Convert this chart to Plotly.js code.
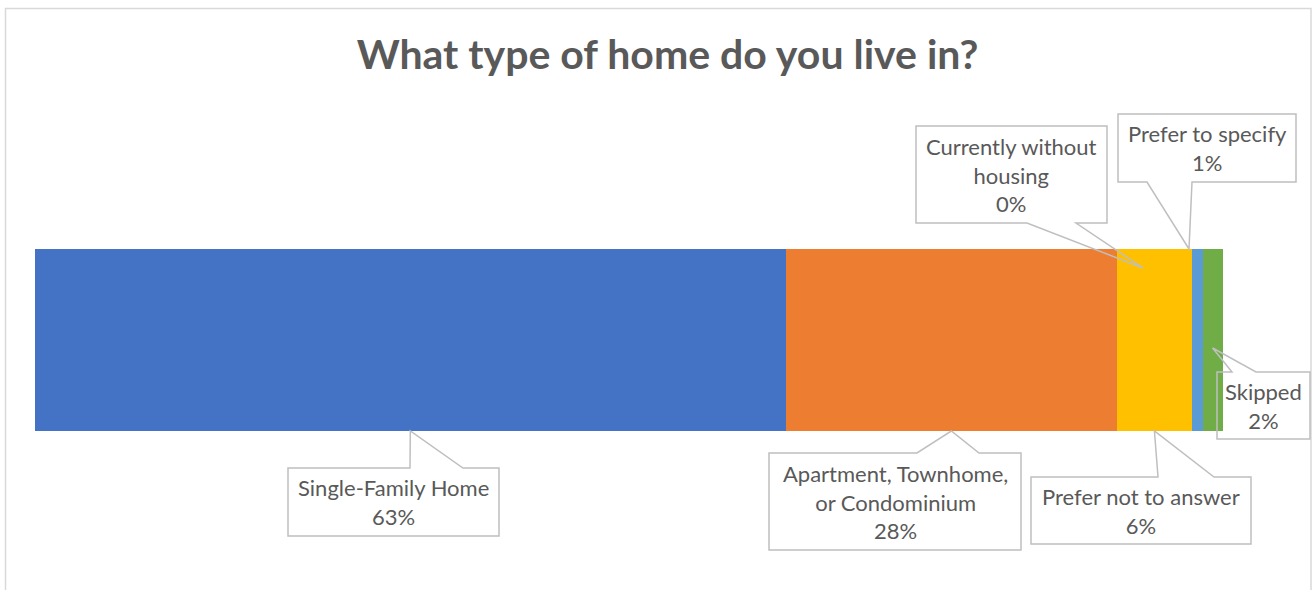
<!DOCTYPE html>
<html>
<head>
<meta charset="utf-8">
<script src="https://cdn.plot.ly/plotly-3.0.1.min.js"></script>
<style>html,body{margin:0;padding:0;background:#fff;}#chart{width:1313px;height:590px;}</style>
</head>
<body>
<div id="chart"></div>
<script>
// ---- data ----
const categories = ['Single-Family Home', 'Apartment, Townhome, or Condominium', 'Currently without housing', 'Prefer not to answer', 'Prefer to specify', 'Skipped'];
const labelLines = ['Single-Family Home', 'Apartment, Townhome,<br>or Condominium', 'Currently without<br>housing', 'Prefer not to answer', 'Prefer to specify', 'Skipped'];
const values = [0.632, 0.279, 0.0, 0.063, 0.009, 0.017];
const colors = ['#4472C4', '#ED7D31', '#A5A5A5', '#FFC000', '#5B9BD5', '#70AD47'];

// ---- geometry helpers (plot area in pixels) ----
const W = 1313, H = 590;
const mL = 35, mR = 13, mT = 249, mB = 159;
const plotW = W - mL - mR, plotH = H - mT - mB;
const XMAX = plotW / 1187.7;
const px2p = px => (px - mL) / plotW;
const py2p = py => (H - mB - py) / plotH;
const d2px = d => mL + d / XMAX * plotW;

const starts = [];
let acc = 0;
values.forEach(v => { starts.push(acc); acc += v; });
const centerPx = i => d2px(starts[i] + values[i] / 2);

// callout boxes (pixels): box, wedge edge, wedge base, tip
const callouts = [
  {box: [288, 468, 499, 536], edge: 'top', a: 410, b: 463, tip: [centerPx(0), 431]},
  {box: [769, 453, 1021, 550], edge: 'top', a: 917, b: 979, tip: [centerPx(1), 431]},
  {box: [916, 126, 1107, 223], edge: 'bottom', a: 1027, b: 1076, tip: [1143, 268]},
  {box: [1031, 477, 1251, 544], edge: 'top', a: 1158, b: 1214, tip: [centerPx(3), 431]},
  {box: [1118, 114, 1296, 182], edge: 'bottom', a: 1147, b: 1192, tip: [1189, 249]},
  {box: [1217, 372, 1310, 439], edge: 'top', a: 1232, b: 1256, tip: [centerPx(5), 348]}
];

function pathOf(c) {
  const [L, T, R, B] = c.box;
  let pts;
  if (c.edge === 'top') {
    pts = [[L, T], [c.a, T], c.tip, [c.b, T], [R, T], [R, B], [L, B]];
  } else {
    pts = [[L, T], [R, T], [R, B], [c.b, B], c.tip, [c.a, B], [L, B]];
  }
  return 'M ' + pts.map(p => px2p(p[0]).toFixed(5) + ',' + py2p(p[1]).toFixed(5)).join(' L ') + ' Z';
}

const traces = categories.map((name, i) => ({
  type: 'bar',
  orientation: 'h',
  name: name,
  y: [0],
  x: [values[i]],
  width: 1,
  marker: {color: colors[i], line: {width: 0}},
  hoverinfo: 'skip',
  showlegend: false
}));

const shapes = [{
  type: 'rect', xref: 'paper', yref: 'paper',
  x0: px2p(5.5), x1: px2p(1311), y0: py2p(620), y1: py2p(8.5),
  line: {color: '#D9D9D9', width: 1.5}, fillcolor: 'rgba(0,0,0,0)', layer: 'below'
}];
const annotations = [];
callouts.forEach((c, i) => {
  shapes.push({
    type: 'path', xref: 'paper', yref: 'paper', path: pathOf(c),
    line: {color: '#BFBFBF', width: 1.5}, fillcolor: 'rgba(0,0,0,0)', layer: 'above'
  });
  annotations.push({
    xref: 'paper', yref: 'paper',
    x: px2p((c.box[0] + c.box[2]) / 2), y: py2p((c.box[1] + c.box[3]) / 2),
    xanchor: 'center', yanchor: 'middle', showarrow: false,
    text: labelLines[i] + '<br>' + Math.round(values[i] * 100) + '%',
    align: 'center',
    font: {family: 'Lato, sans-serif', size: 22, color: '#595959'}
  });
});

const layout = {
  width: W, height: H,
  margin: {l: mL, r: mR, t: mT, b: mB, pad: 0},
  paper_bgcolor: '#fff', plot_bgcolor: '#fff',
  barmode: 'stack',
  bargap: 0,
  title: {
    text: '<b>What type of home do you live in?</b>',
    font: {family: 'Lato, sans-serif', size: 41, color: '#595959'},
    x: 0.5, xanchor: 'center', xref: 'paper',
    y: 1 - 55 / H, yanchor: 'middle', yref: 'container'
  },
  xaxis: {range: [0, XMAX], visible: false, fixedrange: true},
  yaxis: {range: [-0.5, 0.5], visible: false, fixedrange: true},
  shapes: shapes,
  annotations: annotations,
  hovermode: false,
  showlegend: false
};

Plotly.newPlot('chart', traces, layout, {displayModeBar: false, staticPlot: true});
</script>
</body>
</html>
